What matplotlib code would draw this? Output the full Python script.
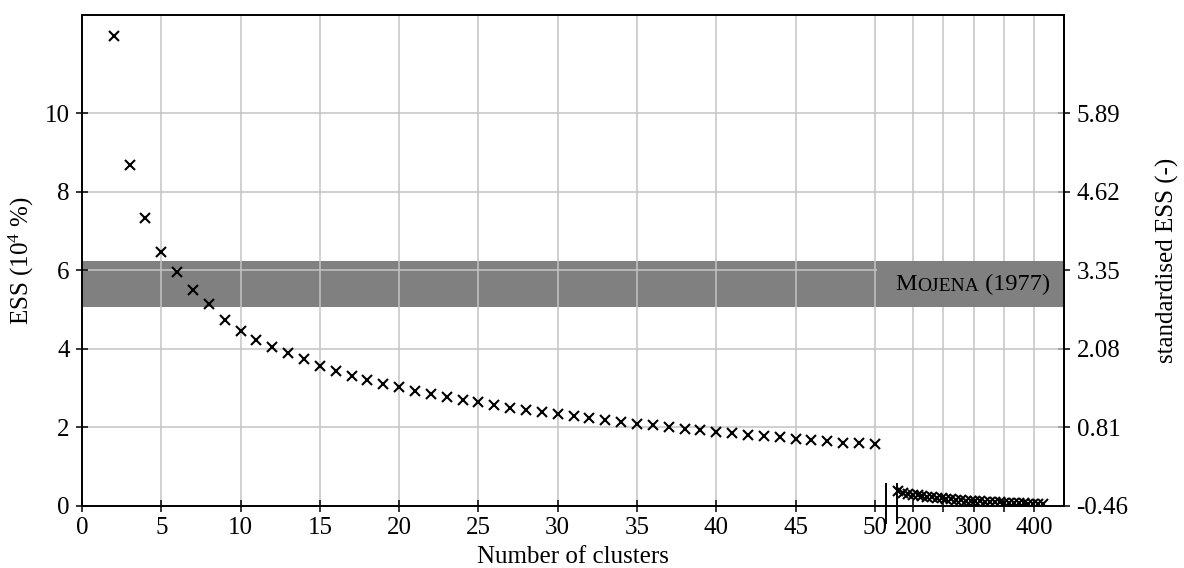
import numpy as np
import matplotlib
matplotlib.use("Agg")
import matplotlib.pyplot as plt
from matplotlib.transforms import blended_transform_factory

plt.rcParams["font.family"] = ["Liberation Serif", "DejaVu Serif"]
plt.rcParams["mathtext.default"] = "regular"

# ESS for 2..50 clusters (in 10^4 %)
n_small = list(range(2, 51))
ess_small = [11.97, 8.68, 7.33, 6.47, 5.96, 5.50, 5.14, 4.74, 4.46, 4.23,
             4.05, 3.90, 3.74, 3.57, 3.44, 3.31, 3.21, 3.11, 3.03, 2.93,
             2.85, 2.78, 2.70, 2.65, 2.57, 2.50, 2.44, 2.39, 2.34, 2.29,
             2.24, 2.19, 2.14, 2.09, 2.06, 2.01, 1.96, 1.94, 1.88, 1.86,
             1.81, 1.78, 1.76, 1.71, 1.68, 1.66, 1.60, 1.60, 1.58]

# ESS for the large cluster counts (right of the break)
n_large = list(range(175, 416, 8))
ess_large = [0.37, 0.34, 0.31, 0.29, 0.27, 0.25, 0.235, 0.22, 0.205, 0.195,
             0.18, 0.17, 0.16, 0.15, 0.14, 0.13, 0.12, 0.115, 0.11, 0.10,
             0.095, 0.09, 0.085, 0.08, 0.075, 0.07, 0.065, 0.06, 0.055, 0.05,
             0.045]

# standardisation used for the right axis
ess_mean = 0.7244
ess_std = 1.5748
mojena_low, mojena_high = 2.75, 3.5

x_ticks = [0, 5, 10, 15, 20, 25, 30, 35, 40, 45, 50, 200, 250, 300, 350, 400]
x_ticklabels = ["0", "5", "10", "15", "20", "25", "30", "35", "40", "45", "50",
                "200", "", "300", "", "400"]
y_ticks = [0, 2, 4, 6, 8, 10]

# broken x axis: linear up to B1, compressed after B2
B1, B2, GAP, R, XMAX = 50.7, 173.0, 0.7, 0.038, 450.0


def fwd(x):
    x = np.asarray(x, dtype=float)
    mid = B1 + (x - B1) * GAP / (B2 - B1)
    hi = B1 + GAP + (x - B2) * R
    return np.where(x <= B1, x, np.where(x <= B2, mid, hi))


def inv(u):
    u = np.asarray(u, dtype=float)
    mid = B1 + (u - B1) * (B2 - B1) / GAP
    hi = B2 + (u - B1 - GAP) / R
    return np.where(u <= B1, u, np.where(u <= B1 + GAP, mid, hi))


fig = plt.figure(figsize=(11.84, 5.68), dpi=100)
ax = fig.add_axes([82 / 1184, 62 / 568, 982 / 1184, 491 / 568])
ax.set_xscale("function", functions=(fwd, inv))
ax.set_xlim(0, XMAX)
ax.set_ylim(0, 12.5)
ax.set_axisbelow(True)

lo = ess_mean + mojena_low * ess_std
hi = ess_mean + mojena_high * ess_std
ax.axhspan(lo, hi, color="#808080", lw=0, zorder=0.2)
ax.grid(True, color="#c4c4c4", lw=1.1)

ax.plot(n_small, ess_small, ls="none", marker="x", ms=7, mew=1.5, color="black", zorder=3)
ax.plot(n_large, ess_large, ls="none", marker="x", ms=7, mew=1.5, color="black", zorder=3)

ax.set_xticks(x_ticks)
ax.set_xticklabels(x_ticklabels)
ax.set_yticks(y_ticks)
ax.minorticks_off()
ax.tick_params(direction="inout", length=8, width=1.1, labelsize=18, pad=5)
ax.tick_params(axis="x", pad=4)
for s in ax.spines.values():
    s.set_linewidth(1.4)

ax.set_xlabel("Number of clusters", fontsize=18, labelpad=5)
ax.set_ylabel("ESS (10$^{4}$ %)", fontsize=18, labelpad=6)

sec = ax.secondary_yaxis("right", functions=(lambda y: (y - ess_mean) / ess_std,
                                             lambda z: z * ess_std + ess_mean))
std_ticks = [(y - ess_mean) / ess_std for y in y_ticks]
sec.set_yticks(std_ticks)
sec.set_yticklabels(["%.2f" % v for v in std_ticks])
sec.tick_params(direction="inout", length=8, width=1.1, labelsize=18, pad=5)
sec.spines["right"].set_linewidth(1.4)
sec.set_ylabel("standardised ESS (-)", fontsize=18, labelpad=20)

# label box covering the grid on the right side of the band
bt = blended_transform_factory(ax.transAxes, ax.transData)
box = plt.Rectangle((0.8096, lo), 1 - 0.8096, hi - lo, transform=bt,
                    facecolor="#808080", edgecolor="none", zorder=1)
ax.add_patch(box)
t3 = ax.text(0.9857, 5.50, " (1977)", transform=bt, ha="right", va="baseline",
             fontsize=17.5, zorder=4)
t2 = ax.annotate("OJENA", xy=(0, 0), xycoords=t3, ha="right", va="bottom",
                 fontsize=14, zorder=4)
t1 = ax.annotate("M", xy=(0, 0), xycoords=t2, ha="right", va="bottom",
                 fontsize=17.5, zorder=4)

# break marks on the x axis
bx = blended_transform_factory(ax.transData, ax.transAxes)
for xb in (B1, B2):
    ax.plot([xb, xb], [-0.035, 0.045], transform=bx, color="black", lw=1.4,
            clip_on=False, zorder=5)

fig.savefig("out.png", dpi=100)
